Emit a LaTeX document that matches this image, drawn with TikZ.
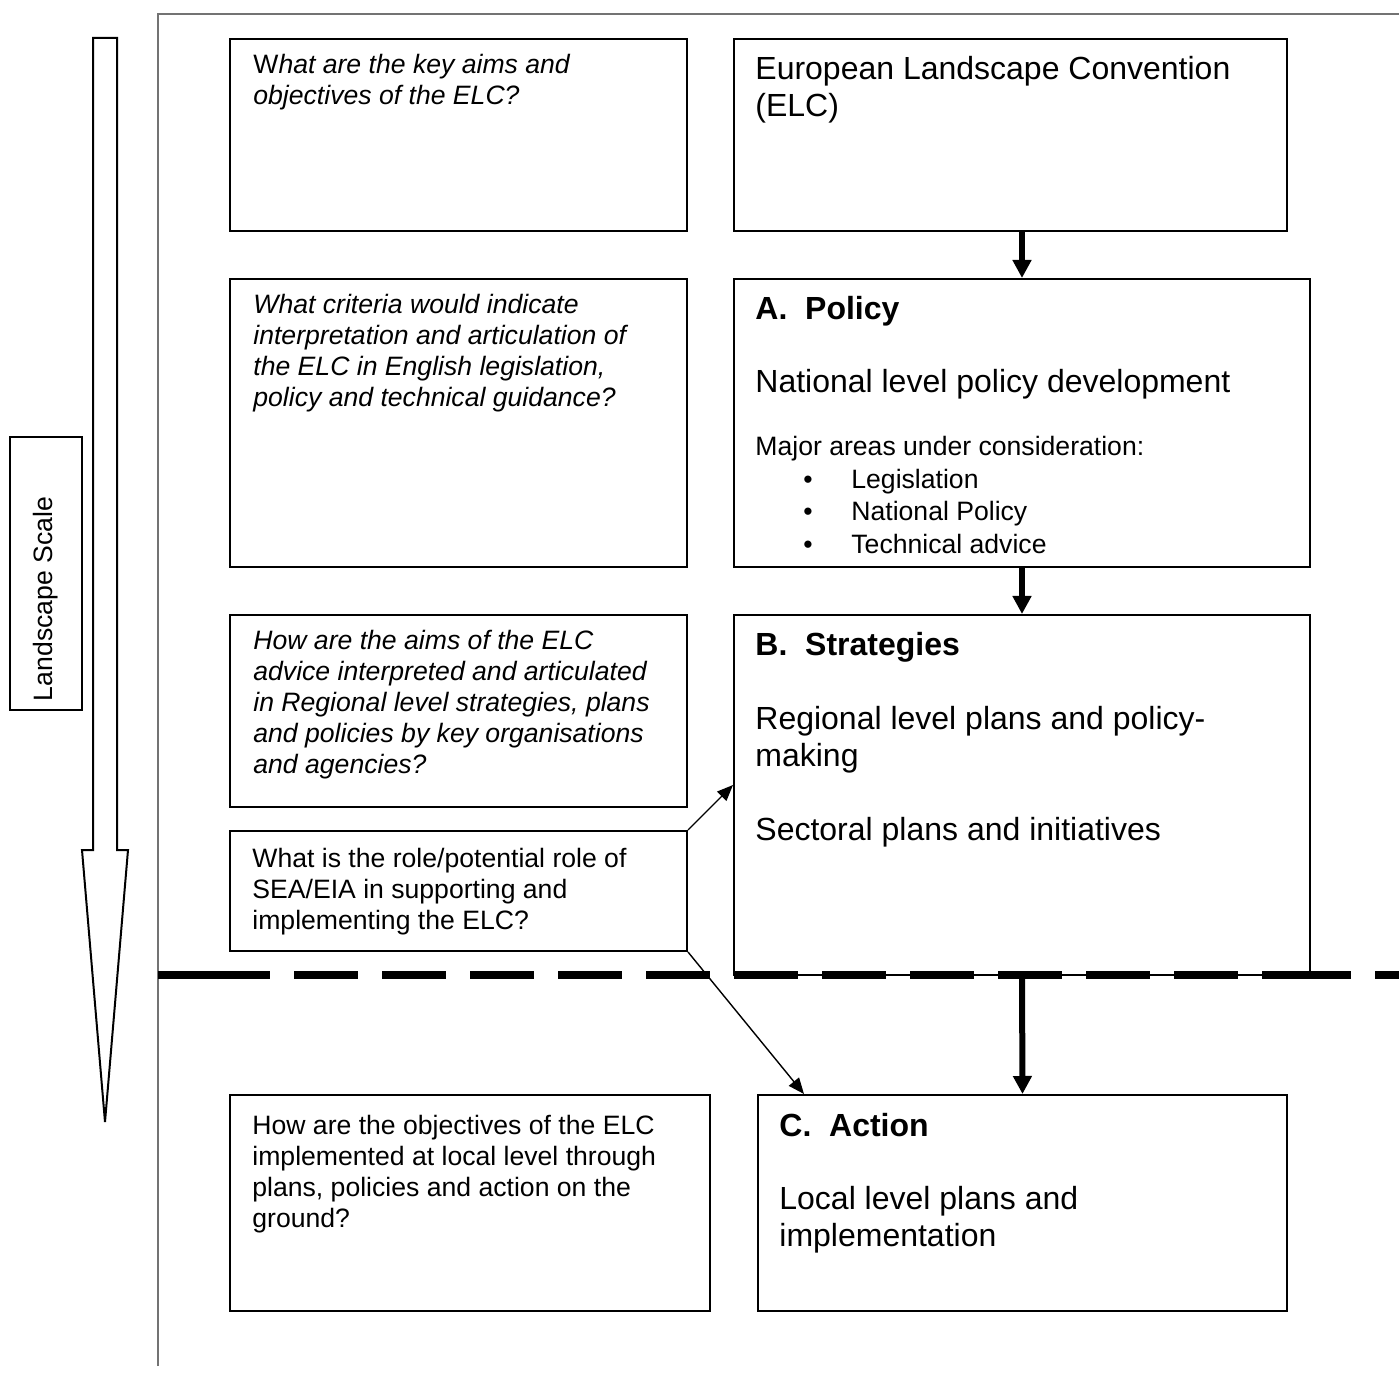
\documentclass[tikz,border=0pt]{standalone}
\usepackage{fontspec}
\setmainfont{Liberation Sans}
\usetikzlibrary{arrows.meta,fit}
\newcommand{\lns}[1]{\begin{tabular}[t]{@{}l@{}}#1\end{tabular}}
\newcommand{\smallf}{\fontsize{13.3}{15.5}\selectfont}
\newcommand{\bulf}{\fontsize{13.3}{16.25}\selectfont}
\newcommand{\bigf}{\fontsize{16}{18.5}\selectfont}
\begin{document}
\begin{tikzpicture}[x=0.5pt,y=-0.5pt,
  box/.style={draw,line width=1pt,inner sep=0pt,rectangle},
  txt/.style={anchor=base west,inner sep=0pt},
  sm/.style={txt,font=\smallf},
  bl/.style={txt,font=\bulf},
  bg/.style={txt,font=\bigf},
  bigarrow/.style={line width=3pt,-{Triangle[length=9pt,width=9pt]}},
  thinarrow/.style={line width=0.7pt,-{Triangle[length=8pt,width=6.5pt]}},
  divider/.style={line width=3.75pt,line cap=butt},
  frame/.style={line width=1pt,draw=black!55}]
\useasboundingbox (0,0) rectangle (1399,1374);

% frame
\coordinate (fb) at (158,1366);
\coordinate (fc) at (158,14);
\coordinate (fr) at (1399,14);
\draw[frame] (fb) -- (fc) -- (fr);

% big scale arrow
\draw[line width=1pt,line join=miter] (93,38) -- (117,38) -- (117,850) -- (128,850) -- (105,1122) -- (82,850) -- (93,850) -- cycle;
\node[box,fit={(10,437)(82,710)}] (ls) {};
\node[font=\smallf,rotate=90,inner sep=0pt] (lst) at (46,599) {Landscape Scale};

% boxes
\node[box,fit={(230,39)(687,231)}] (q1) {};
\node[box,fit={(734,39)(1287,231)}] (elc) {};
\node[box,fit={(230,279)(687,567)}] (q2) {};
\node[box,fit={(734,279)(1310,567)}] (pol) {};
\node[box,fit={(230,615)(687,807)}] (q3) {};
\node[box,fit={(734,615)(1310,975)}] (str) {};
\node[box,fit={(230,831)(687,951)}] (sea) {};
\node[box,fit={(230,1095)(710,1311)}] (q4) {};
\node[box,fit={(758,1095)(1287,1311)}] (act) {};

% texts
\node[sm] (t1) at (253,74) {\lns{W\textit{hat are the key aims and}\\\textit{objectives of the ELC?}}};
\node[bg] (t2) at (755,80) {\lns{European Landscape Convention\\(ELC)}};
\node[sm] (t3) at (253,314) {\lns{\itshape What criteria would indicate\\\itshape interpretation and articulation of\\\itshape the ELC in English legislation,\\\itshape policy and technical guidance?}};
\node[bg,font=\bigf\bfseries] (t4) at (755,320) {A.\ \ Policy};
\node[bg] (t5) at (755,393) {National level policy development};
\node[bl] (t6) at (755,456) {Major areas under consideration:};
\node[bl] (t7) at (803,488.5) {\lns{\textbullet\\\textbullet\\\textbullet}};
\node[bl] (t8) at (851,488.5) {\lns{Legislation\\National Policy\\Technical advice}};
\node[sm] (t9) at (253,650) {\lns{\itshape How are the aims of the ELC\\\itshape advice interpreted and articulated\\\itshape in Regional level strategies, plans\\\itshape and policies by key organisations\\\itshape and agencies?}};
\node[bg,font=\bigf\bfseries] (t10) at (755,656) {B.\ \ Strategies};
\node[bg] (t11) at (755,729) {\lns{Regional level plans and policy-\\making}};
\node[bg] (t12) at (755,840) {Sectoral plans and initiatives};
\node[sm] (t13) at (252,867) {\lns{What is the role/potential role of\\SEA/EIA in supporting and\\implementing the ELC?}};
\node[sm] (t14) at (252,1134) {\lns{How are the objectives of the ELC\\implemented at local level through\\plans, policies and action on the\\ground?}};
\node[bg,font=\bigf\bfseries] (t15) at (779,1136) {C.\ \ Action};
\node[bg] (t16) at (779,1209) {\lns{Local level plans and\\implementation}};

% divider
\coordinate (d0) at (158,975);
\coordinate (d1) at (206,975);
\coordinate (d2) at (1287,975);
\coordinate (d3) at (1399,975);
\draw[divider] (d0) -- (d1);
\draw[divider,dash pattern=on 32pt off 12pt] (d1) -- (d2);
\draw[divider,dash pattern=on 32pt off 12pt] (d2) -- (d3);

% connectors
\draw[bigarrow] (pol.north |- elc.south) -- (pol.north);
\draw[bigarrow] (pol.south) -- (str.north);
\draw[bigarrow] (str.south) -- (act.north);
\draw[thinarrow] (sea.north east) -- ([yshift=5pt]str.west);
\draw[thinarrow] (sea.south east) -- ([xshift=23.5pt]act.north west);
\end{tikzpicture}
\end{document}
